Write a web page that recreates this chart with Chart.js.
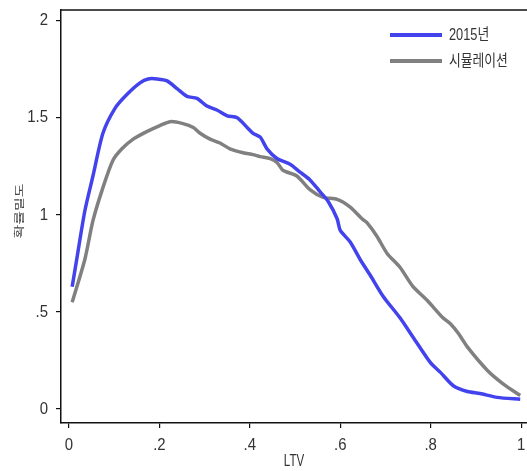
<!DOCTYPE html>
<html>
<head>
<meta charset="utf-8">
<script src="https://cdn.jsdelivr.net/npm/chart.js@4"></script>
<style>
  body { margin: 0; background: #fff; }
  canvas { display: block; }
</style>
</head>
<body>
<canvas id="densityChart" width="527" height="471"></canvas>
<script>
// values
var xTicks = [0, 0.2, 0.4, 0.6, 0.8, 1];
var yTicks = [0, 0.5, 1, 1.5, 2];

var seriesNames = ["2015년", "시뮬레이션"];
var xTitle = "LTV";
var yTitle = "확률밀도";

var ltv2015 = [0.007, 0.017, 0.035, 0.053, 0.075, 0.102, 0.128, 0.157, 0.175, 0.195, 0.217, 0.239, 0.261, 0.283,
    0.305, 0.327, 0.350, 0.372, 0.394, 0.407, 0.423, 0.438, 0.460, 0.489, 0.511, 0.533, 0.555, 0.573, 0.593,
    0.600, 0.622, 0.644, 0.666, 0.695, 0.732, 0.761, 0.799, 0.821, 0.850, 0.881, 0.909, 0.947, 0.998];
var density2015 = [0.63, 0.77, 1.02, 1.20, 1.42, 1.55, 1.62, 1.68, 1.70, 1.70, 1.69, 1.65, 1.61, 1.60,
    1.56, 1.54, 1.51, 1.50, 1.45, 1.42, 1.40, 1.34, 1.29, 1.26, 1.22, 1.18, 1.12, 1.07, 0.98,
    0.92, 0.86, 0.77, 0.69, 0.58, 0.47, 0.37, 0.24, 0.19, 0.12, 0.09, 0.08, 0.06, 0.05];

var ltvSim = [0.007, 0.035, 0.053, 0.075, 0.097, 0.117, 0.142, 0.173, 0.201, 0.224, 0.252, 0.275, 0.290, 0.312,
    0.334, 0.356, 0.385, 0.407, 0.423, 0.445, 0.460, 0.473, 0.504, 0.533, 0.562, 0.593, 0.622, 0.648, 0.659,
    0.681, 0.704, 0.732, 0.761, 0.792, 0.827, 0.843, 0.861, 0.881, 0.925, 0.960, 0.998];
var densitySim = [0.55, 0.77, 0.97, 1.14, 1.28, 1.34, 1.39, 1.43, 1.46, 1.48, 1.47, 1.45, 1.42, 1.39,
    1.37, 1.34, 1.32, 1.31, 1.30, 1.29, 1.27, 1.23, 1.20, 1.13, 1.09, 1.08, 1.04, 0.98, 0.96,
    0.89, 0.80, 0.73, 0.63, 0.56, 0.47, 0.44, 0.39, 0.32, 0.20, 0.13, 0.07];

function toPoints(xs, ys) {
    return xs.map(function (x, i) { return { x: x, y: ys[i] }; });
}

function tickText(v) {
    if (v === 0 || v === 1 || v === 2) return String(v);
    return String(v).replace(/^0/, '');
}

// text squeezed horizontally, like the narrow font of the original
function squeezedText(ctx, text, x, y, align, sx, sy, rot) {
    ctx.save();
    ctx.translate(x, y);
    if (rot) ctx.rotate(rot);
    ctx.scale(sx, sy);
    ctx.textAlign = align;
    ctx.textBaseline = 'middle';
    ctx.fillText(text, 0, 0);
    ctx.restore();
}

var LABEL_FONT = "17px 'Liberation Sans', sans-serif";
var KO_FONT = "16px 'Liberation Sans', 'Noto Sans CJK KR', sans-serif";

// top frame, tick labels and axis titles
var axisText = {
    id: 'axisText',
    afterDraw: function (chart) {
        var ctx = chart.ctx, a = chart.chartArea;
        var xs = chart.scales.x, ys = chart.scales.y;
        ctx.save();
        ctx.strokeStyle = '#111';
        ctx.lineWidth = 1.5;
        ctx.beginPath();
        ctx.moveTo(a.left, a.top);
        ctx.lineTo(a.right, a.top);
        ctx.stroke();

        ctx.fillStyle = '#333';
        ctx.font = LABEL_FONT;
        xTicks.forEach(function (v) {
            squeezedText(ctx, tickText(v), xs.getPixelForValue(v), a.bottom + 22, 'center', 0.88, 1);
        });
        yTicks.forEach(function (v) {
            squeezedText(ctx, tickText(v), a.left - 13, ys.getPixelForValue(v), 'right', 0.88, 1);
        });
        squeezedText(ctx, xTitle, (a.left + a.right) / 2, a.bottom + 38, 'center', 0.68, 1);

        ctx.fillStyle = '#444';
        ctx.font = "15px 'Noto Sans CJK KR', sans-serif";
        squeezedText(ctx, yTitle, 19, 211, 'center', 1, 0.7, -Math.PI / 2);
        ctx.restore();
    }
};

// legend drawn inside the plot, top right
var insideLegend = {
    id: 'insideLegend',
    afterDraw: function (chart) {
        var ctx = chart.ctx, a = chart.chartArea;
        var x0 = a.right - 137, y0 = a.top + 25;
        ctx.save();
        chart.data.datasets.forEach(function (ds, i) {
            var y = y0 + i * 26;
            ctx.strokeStyle = ds.borderColor;
            ctx.lineWidth = 4;
            ctx.beginPath();
            ctx.moveTo(x0, y);
            ctx.lineTo(x0 + 52, y);
            ctx.stroke();
            ctx.fillStyle = '#333';
            ctx.font = KO_FONT;
            squeezedText(ctx, ds.label, x0 + 59, y + 1, 'left', 0.8, 1);
        });
        ctx.restore();
    }
};

var ctx = document.getElementById('densityChart').getContext('2d');
var chart = new Chart(ctx, {
    type: 'line',
    data: {
        datasets: [{
            label: seriesNames[0],
            data: toPoints(ltv2015, density2015),
            borderColor: '#4343ee',
            borderWidth: 3.5,
            pointRadius: 0,
            tension: 0.25,
            fill: false
        }, {
            label: seriesNames[1],
            data: toPoints(ltvSim, densitySim),
            borderColor: '#808080',
            borderWidth: 3.5,
            pointRadius: 0,
            tension: 0.25,
            fill: false
        }]
    },
    options: {
        responsive: false,
        animation: false,
        layout: { padding: { top: 10, right: 0, left: 0, bottom: 0 } },
        scales: {
            x: {
                type: 'linear',
                min: -0.0177,
                max: 1.013,
                afterFit: function (s) {
                    s.height = 48;
                    s.paddingLeft = 0; s.paddingRight = 0;
                },
                afterBuildTicks: function (s) { s.ticks = xTicks.map(function (v) { return { value: v }; }); },
                grid: { drawOnChartArea: false, color: '#111', tickLength: 5, lineWidth: 1.2 },
                border: { color: '#111', width: 1.5 },
                ticks: { display: false }
            },
            y: {
                type: 'linear',
                min: -0.072,
                max: 2.055,
                afterFit: function (s) {
                    s.width = 61;
                    s.paddingTop = 0; s.paddingBottom = 0;
                },
                afterBuildTicks: function (s) { s.ticks = yTicks.map(function (v) { return { value: v }; }); },
                grid: { drawOnChartArea: false, color: '#111', tickLength: 5, lineWidth: 1.2 },
                border: { color: '#111', width: 1.5 },
                ticks: { display: false }
            }
        },
        plugins: {
            legend: { display: false },
            tooltip: { enabled: false }
        }
    },
    plugins: [axisText, insideLegend]
});
</script>
</body>
</html>
